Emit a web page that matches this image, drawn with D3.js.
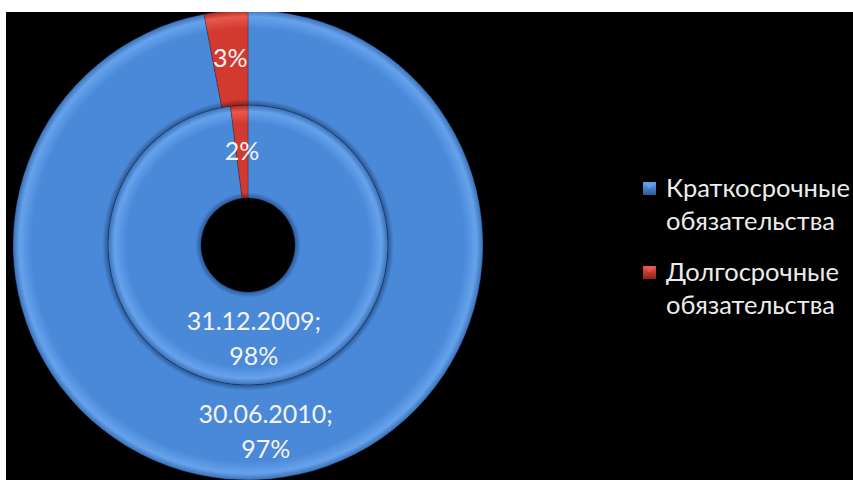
<!DOCTYPE html>
<html>
<head>
<meta charset="utf-8">
<script src="https://cdn.jsdelivr.net/npm/d3@7/dist/d3.min.js"></script>
<style>
  html, body { margin: 0; padding: 0; background: #ffffff; }
  svg { display: block; }
</style>
</head>
<body>
<svg id="chart" width="853" height="480"></svg>
<script>
// Liabilities structure, two reporting dates (inner ring = earlier date)
const categories = ["Краткосрочные обязательства", "Долгосрочные обязательства"];
const legendLines = [["Краткосрочные", "обязательства"], ["Долгосрочные", "обязательства"]];
const periods = ["31.12.2009", "30.06.2010"];
const values2009 = [98, 2];
const values2010 = [97, 3];

const W = 853, H = 480;
const svg = d3.select("#chart");
const defs = svg.append("defs");

// black plotting area inside a thin white frame
svg.append("rect").attr("x", 6).attr("y", 12).attr("width", W - 6).attr("height", H - 12).attr("fill", "#000");

const cx = 248, cy = 245;
const rHole = 47, rMid = 140, rOuter = 235;

const colors = d3.scaleOrdinal().domain(categories).range(["#4a88d8", "#d2392f"]);

// bevel-like shading across each ring's width
const shades = {
  "#4a88d8": { dark: "#2c5a98", base: "#4a88d8", light: "#66a2ec", edge: "#3a70b6" },
  "#d2392f": { dark: "#8e2019", base: "#d2392f", light: "#e8584c", edge: "#a52a22" }
};
function ringGradient(id, color, r0, r1) {
  const s = shades[color];
  const f = r0 / r1, w = 1 - f;
  const g = defs.append("radialGradient").attr("id", id)
    .attr("gradientUnits", "userSpaceOnUse").attr("cx", 0).attr("cy", 0).attr("r", r1);
  [[f, s.dark], [f + w * 0.06, s.base], [f + w * 0.12, s.base], [f + w * 0.80, s.base],
   [f + w * 0.93, s.light], [1, s.edge]].forEach(([o, c]) => {
    g.append("stop").attr("offset", o).attr("stop-color", c);
  });
  return `url(#${id})`;
}

const pie = d3.pie().sort(null).value(d => d);
const rings = [
  { period: periods[0], values: values2009, r0: rHole, r1: rMid },
  { period: periods[1], values: values2010, r0: rMid, r1: rOuter }
];

const g = svg.append("g").attr("transform", `translate(${cx},${cy})`);

rings.forEach((ring, ri) => {
  const arc = d3.arc().innerRadius(ring.r0).outerRadius(ring.r1);
  const arcs = pie(ring.values);
  g.selectAll(null).data(arcs).enter().append("path")
    .attr("d", arc)
    .attr("fill", (d, i) => ringGradient(`grad-${ri}-${i}`, colors(categories[i]), ring.r0, ring.r1))
    .attr("stroke", "rgba(15,35,70,0.35)")
    .attr("stroke-width", 0.8);

  arcs.forEach((d, i) => {
    const [x, y] = arc.centroid(d);
    const lines = i === 0 ? [ring.period + ";", d.data + "%"] : [d.data + "%"];
    const t = g.append("text")
      .attr("x", x).attr("y", y)
      .attr("text-anchor", "middle")
      .attr("fill", "#f4f4f4")
      .style("font-family", "Lato, 'Open Sans', sans-serif")
      .style("font-size", "25px");
    lines.forEach((ln, k) => {
      t.append("tspan").attr("x", x)
        .attr("y", y + (k - (lines.length - 1) / 2) * 35)
        .attr("dy", "0.35em")
        .text(ln);
    });
  });
});

// legend
const legend = svg.append("g").attr("transform", "translate(643,0)");
const rowTop = [182, 266];
categories.forEach((c, i) => {
  const col = colors(c);
  const s = shades[col];
  const y0 = rowTop[i];
  const mg = defs.append("linearGradient").attr("id", `lg-${i}`)
    .attr("x1", 0).attr("y1", 0).attr("x2", 0).attr("y2", 1);
  mg.append("stop").attr("offset", 0).attr("stop-color", s.light);
  mg.append("stop").attr("offset", 1).attr("stop-color", s.dark);
  legend.append("rect").attr("x", 0).attr("y", y0).attr("width", 13).attr("height", 13)
    .attr("fill", `url(#lg-${i})`);
  legend.append("path")
    .attr("d", `M1,${y0 + 1}L12,${y0 + 1}L6.5,${y0 + 6.5}Z`)
    .attr("fill", s.light).attr("opacity", 0.8);
  const t = legend.append("text")
    .attr("fill", "#ececec")
    .style("font-family", "Lato, 'Open Sans', sans-serif")
    .style("font-size", "25.5px");
  legendLines[i].forEach((ln, k) => {
    t.append("tspan").attr("x", 23).attr("y", y0 + 15 + k * 33).text(ln);
  });
});

// white frame on top
svg.append("rect").attr("x", 0).attr("y", 0).attr("width", W).attr("height", 12).attr("fill", "#fff");
svg.append("rect").attr("x", 0).attr("y", 0).attr("width", 6).attr("height", H).attr("fill", "#fff");
</script>
</body>
</html>
